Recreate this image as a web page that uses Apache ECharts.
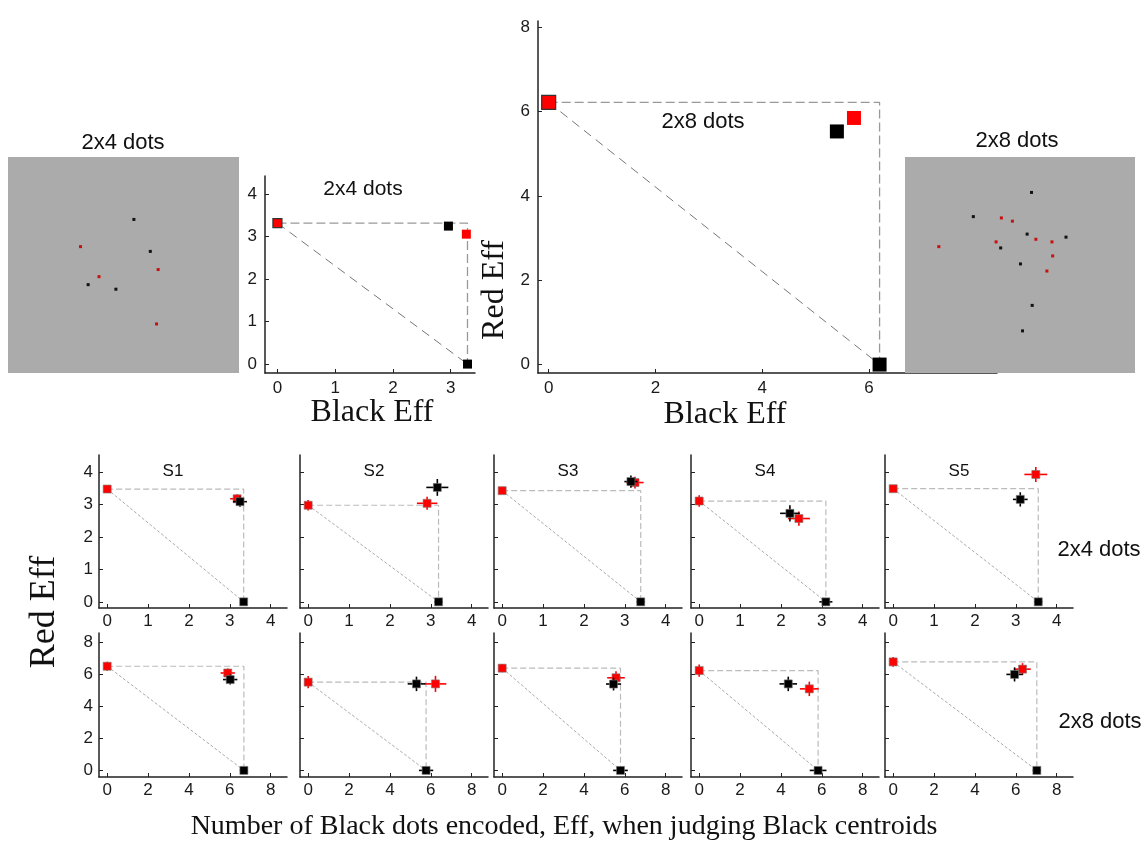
<!DOCTYPE html>
<html>
<head>
<meta charset="utf-8">
<script src="https://cdn.jsdelivr.net/npm/echarts@6/dist/echarts.min.js"></script>
<style>
  html, body { margin: 0; padding: 0; background: #fff; }
  #main { width: 1148px; height: 847px; }
</style>
</head>
<body>
<div id="main"></div>
<script>
const SANS = 'Liberation Sans, Arial, sans-serif';
const SERIF = 'Liberation Serif, Times New Roman, serif';

// stimulus pictures: dot positions in % of the picture (x from left, y from top)
const img4Black = [[54.5, 28.9], [61.6, 43.7], [34.7, 59.1], [46.7, 61.2]];
const img4Red = [[31.4, 41.5], [39.4, 55.4], [65.0, 52.1], [64.3, 77.3]];
const img8Black = [[55.0, 16.4], [29.7, 27.6], [53.1, 35.7], [70.0, 37.1], [41.6, 42.1], [50.2, 49.5], [55.3, 68.7], [51.1, 80.5]];
const img8Red = [[41.9, 28.2], [46.7, 29.7], [56.9, 38.1], [63.9, 39.3], [39.6, 39.3], [14.7, 41.5], [64.2, 45.8], [61.7, 52.8]];

// top summary plots, [blackEff, redEff]
const top4Black = [[2.96, 3.25], [3.29, 0]];
const top4Red = [[0, 3.32], [3.27, 3.06]];
const top8Black = [[5.4, 5.53], [6.2, 0]];
const top8Red = [[0, 6.22], [5.72, 5.85]];

// per subject panels: [x, y, xErr, yErr]
const subjects = ['S1', 'S2', 'S3', 'S4', 'S5'];
const red4 = [
  [[0, 3.48, 0.03, 0.07], [3.18, 3.18, 0.17, 0.14]],
  [[0, 2.98, 0.03, 0.16], [2.91, 3.04, 0.25, 0.2]],
  [[0, 3.43, 0.03, 0.1], [3.25, 3.68, 0.21, 0.18]],
  [[0, 3.11, 0.03, 0.18], [2.44, 2.57, 0.27, 0.22]],
  [[0, 3.49, 0.03, 0.08], [3.49, 3.93, 0.28, 0.23]],
];
const black4 = [
  [[3.25, 3.09, 0.17, 0.16], [3.34, 0, 0.08, 0.03]],
  [[3.16, 3.53, 0.27, 0.26], [3.19, 0, 0.1, 0.03]],
  [[3.15, 3.71, 0.16, 0.19], [3.39, 0, 0.1, 0.03]],
  [[2.22, 2.73, 0.24, 0.25], [3.1, 0, 0.16, 0.03]],
  [[3.11, 3.16, 0.18, 0.22], [3.55, 0, 0.1, 0.03]],
];
const red8 = [
  [[0, 6.49, 0.05, 0.28], [5.9, 6.07, 0.35, 0.28]],
  [[0, 5.5, 0.05, 0.38], [6.23, 5.39, 0.53, 0.5]],
  [[0, 6.37, 0.05, 0.25], [5.57, 5.77, 0.43, 0.4]],
  [[0, 6.22, 0.05, 0.38], [5.39, 5.08, 0.46, 0.45]],
  [[0, 6.76, 0.05, 0.3], [6.33, 6.31, 0.4, 0.37]],
];
const black8 = [
  [[6.02, 5.66, 0.35, 0.31], [6.69, 0, 0.2, 0.05]],
  [[5.3, 5.39, 0.43, 0.45], [5.77, 0, 0.35, 0.05]],
  [[5.45, 5.38, 0.37, 0.4], [5.79, 0, 0.36, 0.05]],
  [[4.36, 5.39, 0.43, 0.45], [5.82, 0, 0.41, 0.05]],
  [[5.94, 5.98, 0.4, 0.44], [7.03, 0, 0.2, 0.05]],
];
const ticks4 = [0, 1, 2, 3, 4];
const ticks8 = [0, 2, 4, 6, 8];

const grids = [];
const xAxes = [];
const yAxes = [];
const series = [];
const texts = [];

function valAxis(idx, range, ticks, showLabels, fontSize, margin) {
  return {
    gridIndex: idx, type: 'value', min: range[0], max: range[1],
    splitLine: { show: false },
    axisLine: { show: true, onZero: false, lineStyle: { color: '#222', width: 1.5 } },
    axisTick: { show: true, inside: true, length: 4, customValues: ticks, lineStyle: { color: '#222', width: 1 } },
    axisLabel: { show: showLabels, customValues: ticks, color: '#1a1a1a', fontSize: fontSize, fontFamily: SANS, margin: margin },
  };
}

function addGrid(box, extra) {
  grids.push(Object.assign({ left: box[0], top: box[1], width: box[2], height: box[3] }, extra || {}));
  return grids.length - 1;
}

function addText(text, x, y, font, rot) {
  texts.push({
    type: 'text', x: x, y: y, rotation: rot || 0, z: 100,
    style: { text: text, font: font, fill: '#111', textAlign: 'center', textVerticalAlign: 'middle' },
  });
}

function dots(idx, data, size, style, z) {
  series.push({
    type: 'scatter', xAxisIndex: idx, yAxisIndex: idx, data: data, symbol: 'rect', symbolSize: size,
    itemStyle: Object.assign({ opacity: 1 }, style), emphasis: { disabled: true }, z: z, silent: true,
  });
}

// picture of the dots
function addPicture(box, blackPts, redPts) {
  const idx = addGrid(box, { show: true, backgroundColor: '#ababab', borderWidth: 0, z: 10 });
  xAxes.push({ gridIndex: idx, type: 'value', min: 0, max: 100, show: false });
  yAxes.push({ gridIndex: idx, type: 'value', min: 0, max: 100, inverse: true, show: false });
  dots(idx, blackPts, 3, { color: '#111' }, 11);
  dots(idx, redPts, 3, { color: '#c81010' }, 11);
}

function guideLines(idx, r0, b0, rectStyle, diagStyle) {
  series.push({
    type: 'line', xAxisIndex: idx, yAxisIndex: idx, symbol: 'none', silent: true, z: 1,
    data: [[0, r0], [b0, r0], [b0, 0]], lineStyle: rectStyle,
  });
  series.push({
    type: 'line', xAxisIndex: idx, yAxisIndex: idx, symbol: 'none', silent: true, z: 1,
    data: [[0, r0], [b0, 0]], lineStyle: diagStyle,
  });
}

function errBars(color) {
  return function (params, api) {
    const x = api.value(0), y = api.value(1), ex = api.value(2), ey = api.value(3);
    const l = api.coord([x - ex, y]), r = api.coord([x + ex, y]);
    const b = api.coord([x, y - ey]), t = api.coord([x, y + ey]);
    return {
      type: 'group',
      children: [
        { type: 'line', shape: { x1: l[0], y1: l[1], x2: r[0], y2: r[1] }, style: { stroke: color, lineWidth: 1.6 } },
        { type: 'line', shape: { x1: b[0], y1: b[1], x2: t[0], y2: t[1] }, style: { stroke: color, lineWidth: 1.6 } },
      ],
    };
  };
}

// top summary plot
function addSummary(box, xr, yr, xt, yt, blackPts, redPts, size) {
  const idx = addGrid(box);
  xAxes.push(valAxis(idx, xr, xt, true, 17, 7));
  yAxes.push(valAxis(idx, yr, yt, true, 17, 8));
  guideLines(idx, redPts[0][1], blackPts[1][0],
    { color: '#999', width: 1.3, type: [9, 4] },
    { color: '#777', width: 1, type: [9, 6] });
  dots(idx, [redPts[0]], size, { color: '#ff0000', borderColor: '#333', borderWidth: 1.2 }, 4);
  dots(idx, [redPts[1]], size, { color: '#ff0000' }, 4);
  dots(idx, blackPts, size, { color: '#000' }, 4);
}

// subject panel
function addSubject(box, xr, yr, ticks, showY, redPts, blackPts) {
  const idx = addGrid(box);
  xAxes.push(valAxis(idx, xr, ticks, true, 17, 5));
  yAxes.push(valAxis(idx, yr, ticks, showY, 17, 6));
  guideLines(idx, redPts[0][1], blackPts[1][0],
    { color: '#bbb', width: 1.2, type: [6, 3] },
    { color: '#aaa', width: 1, type: [3, 2] });
  series.push({ type: 'custom', xAxisIndex: idx, yAxisIndex: idx, data: redPts, encode: { x: 0, y: 1 }, renderItem: errBars('#ff0000'), z: 3, silent: true });
  dots(idx, redPts.map(p => [p[0], p[1]]), 8, { color: '#ff0000', borderColor: 'rgba(120,120,120,0.6)', borderWidth: 1 }, 4);
  series.push({ type: 'custom', xAxisIndex: idx, yAxisIndex: idx, data: blackPts, encode: { x: 0, y: 1 }, renderItem: errBars('#000'), z: 5, silent: true });
  dots(idx, blackPts.map(p => [p[0], p[1]]), 8, { color: '#000', borderColor: 'rgba(120,120,120,0.6)', borderWidth: 1 }, 6);
}

addSummary([265, 176, 210, 197], [-0.215, 3.42], [-0.21, 4.43], [0, 1, 2, 3], ticks4, top4Black, top4Red, 9);
addSummary([538, 21, 459, 352], [-0.2, 8.4], [-0.2, 8.15], [0, 2, 4, 6], ticks8, top8Black, top8Red, 14);
addPicture([8, 157, 231, 216], img4Black, img4Red);
addPicture([905, 157, 230, 216], img8Black, img8Red);

const lefts = [99, 300, 494, 691, 885];
subjects.forEach((s, i) => {
  addSubject([lefts[i], 455, 188, 153], [-0.2, 4.4], [-0.19, 4.53], ticks4, i === 0, red4[i], black4[i]);
  addSubject([lefts[i], 633, 188, 144], [-0.4, 8.8], [-0.41, 8.56], ticks8, i === 0, red8[i], black8[i]);
  addText(s, lefts[i] + 74, 471, '17px ' + SANS);
});

addText('2x4 dots', 123, 143, '22px ' + SANS);
addText('2x4 dots', 363, 189, '21px ' + SANS);
addText('2x8 dots', 703, 122, '22px ' + SANS);
addText('2x8 dots', 1017, 141, '22px ' + SANS);
addText('Black Eff', 372, 413, '32px ' + SERIF);
addText('Black Eff', 725, 415, '32px ' + SERIF);
addText('Red Eff', 495, 290, '32px ' + SERIF, Math.PI / 2);
addText('2x4 dots', 1099, 550, '22px ' + SANS);
addText('2x8 dots', 1100, 722, '22px ' + SANS);
addText('Red Eff', 45, 612, '36px ' + SERIF, Math.PI / 2);
addText('Number of Black dots encoded, Eff, when judging Black centroids', 564, 827, '28px ' + SERIF);

const chart = echarts.init(document.getElementById('main'), null, { renderer: 'canvas' });
chart.setOption({
  animation: false,
  backgroundColor: '#fff',
  grid: grids,
  xAxis: xAxes,
  yAxis: yAxes,
  series: series,
  graphic: { elements: texts },
});
</script>
</body>
</html>
